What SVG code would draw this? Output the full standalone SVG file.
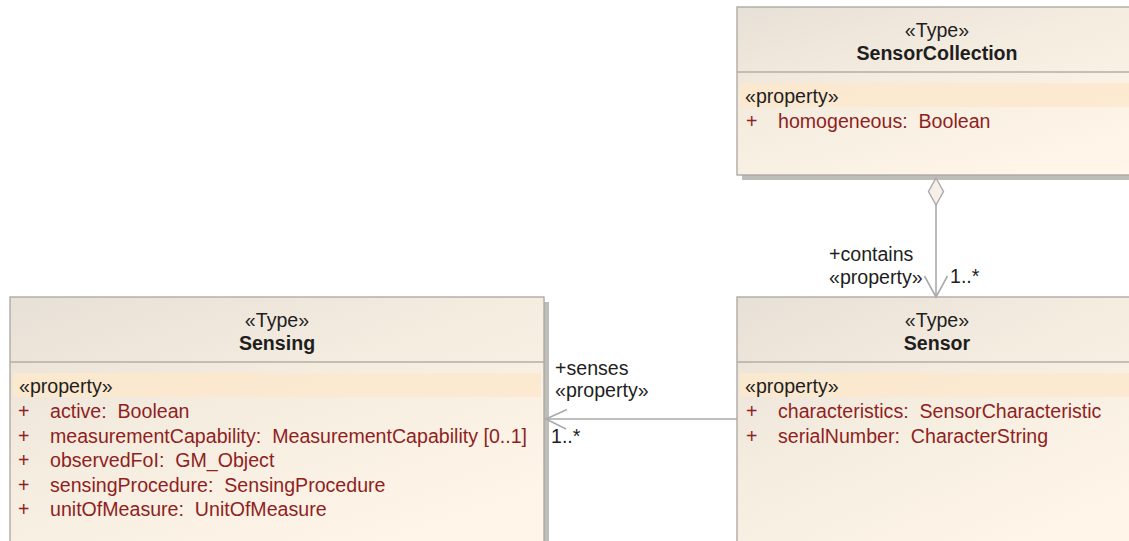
<svg xmlns="http://www.w3.org/2000/svg" width="1129" height="541" viewBox="0 0 1129 541">
  <style>
    text { font-family: "Liberation Sans", Arial, sans-serif; font-size: 19.6px; white-space: pre; }
    .stereo { fill: #1e1e1e; text-anchor: middle; }
    .name { fill: #1e1e1e; text-anchor: middle; font-weight: bold; }
    .sect { fill: #1e1e1e; }
    .attr { fill: #8f1f22; }
    .lbl { fill: #1e1e1e; }
    .box { fill: url(#boxFill); stroke: #aaa59e; stroke-width: 1.3; }
    .shadow { fill: #bfbdba; }
    .divider { stroke: #b3aea6; stroke-width: 1.5; }
    .band { fill: #fbe8cc; opacity: 0.85; }
    .conn { stroke: #aaaaaa; stroke-width: 1.6; fill: none; }
  </style>
  <defs>
    <linearGradient id="boxFill" x1="0" y1="0" x2="0.7" y2="1">
      <stop offset="0" stop-color="#e7e0d6"/>
      <stop offset="0.45" stop-color="#f5ece0"/>
      <stop offset="1" stop-color="#fff6e9"/>
    </linearGradient>
  </defs>

  <rect width="1129" height="541" fill="#ffffff"/>

  <!-- SensorCollection -->
  <g id="SensorCollection">
    <rect class="shadow" x="742" y="12" width="400" height="168"/>
    <rect class="box" x="737" y="7" width="400" height="168"/>
    <line class="divider" x1="737" y1="72" x2="1137" y2="72"/>
    <rect class="band" x="740" y="83" width="394" height="24"/>
    <text class="stereo" x="937" y="37">«Type»</text>
    <text class="name" x="937" y="60">SensorCollection</text>
    <text class="sect" x="745" y="103">«property»</text>
    <text class="attr" x="746" y="128">+</text>
    <text class="attr" x="778" y="128">homogeneous:  Boolean</text>
  </g>

  <!-- Sensing -->
  <g id="Sensing">
    <rect class="shadow" x="15" y="302" width="534" height="260"/>
    <rect class="box" x="10" y="297" width="534" height="260"/>
    <line class="divider" x1="10" y1="362" x2="544" y2="362"/>
    <rect class="band" x="13" y="373" width="528" height="24"/>
    <text class="stereo" x="277" y="327">«Type»</text>
    <text class="name" x="277" y="350">Sensing</text>
    <text class="sect" x="19" y="393">«property»</text>
    <text class="attr" x="18" y="418">+</text>
    <text class="attr" x="50" y="418">active:  Boolean</text>
    <text class="attr" x="18" y="442.5">+</text>
    <text class="attr" x="50" y="442.5">measurementCapability:  MeasurementCapability [0..1]</text>
    <text class="attr" x="18" y="467">+</text>
    <text class="attr" x="50" y="467">observedFoI:  GM_Object</text>
    <text class="attr" x="18" y="491.5">+</text>
    <text class="attr" x="50" y="491.5">sensingProcedure:  SensingProcedure</text>
    <text class="attr" x="18" y="516">+</text>
    <text class="attr" x="50" y="516">unitOfMeasure:  UnitOfMeasure</text>
  </g>

  <!-- Sensor -->
  <g id="Sensor">
    <rect class="shadow" x="742" y="302" width="400" height="260"/>
    <rect class="box" x="737" y="297" width="400" height="260"/>
    <line class="divider" x1="737" y1="362" x2="1137" y2="362"/>
    <rect class="band" x="740" y="373" width="394" height="24"/>
    <text class="stereo" x="937" y="327">«Type»</text>
    <text class="name" x="937" y="350">Sensor</text>
    <text class="sect" x="745" y="393">«property»</text>
    <text class="attr" x="746" y="418">+</text>
    <text class="attr" x="778" y="418">characteristics:  SensorCharacteristic</text>
    <text class="attr" x="746" y="443">+</text>
    <text class="attr" x="778" y="443">serialNumber:  CharacterString</text>
  </g>

  <!-- Associations -->
  <g id="connectors">
    <!-- SensorCollection (aggregate) to Sensor -->
    <polygon points="936,178 943.5,191.5 936,205 928.5,191.5" fill="#f7f0e6" stroke="#aaaaaa" stroke-width="1.4"/>
    <line class="conn" x1="936" y1="205" x2="936" y2="297"/>
    <polyline class="conn" points="924.5,276 936,297 947.5,276"/>
    <text class="lbl" x="829" y="261">+contains</text>
    <text class="lbl" x="829" y="284">«property»</text>
    <text class="lbl" x="950" y="283">1..*</text>

    <!-- Sensor to Sensing -->
    <line class="conn" x1="737" y1="419" x2="546" y2="419"/>
    <polyline class="conn" points="567,409.5 546,419 566,429"/>
    <text class="lbl" x="555" y="375">+senses</text>
    <text class="lbl" x="555" y="397">«property»</text>
    <text class="lbl" x="551" y="443">1..*</text>
  </g>
</svg>
